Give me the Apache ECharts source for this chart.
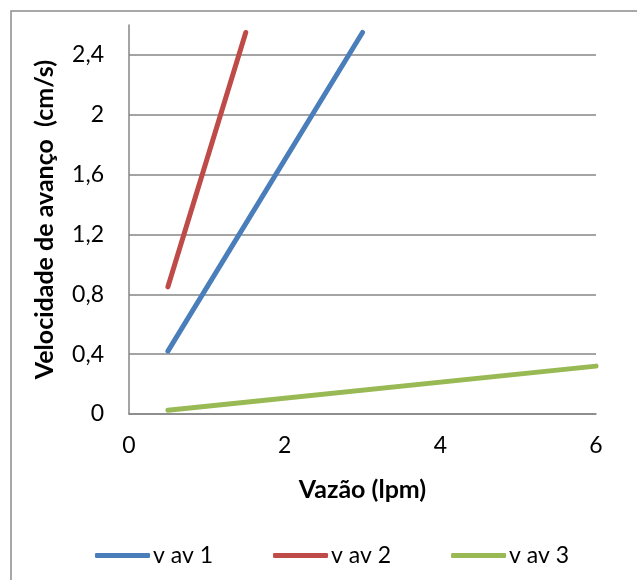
<!DOCTYPE html>
<html>
<head>
<meta charset="utf-8">
<script src="https://cdn.jsdelivr.net/npm/echarts@6/dist/echarts.min.js"></script>
<style>
  html, body { margin: 0; padding: 0; background: #fff; }
  #chart { width: 637px; height: 580px; }
</style>
</head>
<body>
<div id="chart"></div>
<script>
// dados: vazão (lpm) x velocidade de avanço (cm/s)
const vav1 = [[0.5, 0.42], [3.0, 2.55]]
const vav2 = [[0.5, 0.85], [1.5, 2.55]]
const vav3 = [[0.5, 0.025], [6.0, 0.32]]
const seriesNames = ['v av 1', 'v av 2', 'v av 3']
const yTicks = [0, 0.4, 0.8, 1.2, 1.6, 2, 2.4]
const xTicks = [0, 2, 4, 6]

const font = 'Lato, "Open Sans", sans-serif'
const colors = ['#4A7EBB', '#BE4B48', '#98B954']

function fmt(v) {
  return String(v).replace('.', ',')
}

var chart = echarts.init(document.getElementById('chart'))

var option = {
  animation: false,
  color: colors,
  graphic: [{
    type: 'rect',
    shape: { x: 11, y: 11, width: 700, height: 700 },
    style: { fill: 'none', stroke: '#8c8c8c', lineWidth: 1.5 },
    silent: true
  }],
  grid: { left: 129, right: 41, top: 25, bottom: 166 },
  legend: {
    bottom: 8,
    left: 90,
    itemWidth: 55,
    itemHeight: 5,
    itemGap: 60,
    icon: 'roundRect',
    textStyle: { fontFamily: font, fontSize: 23, color: '#000', padding: [0, 0, 0, -2] },
    data: seriesNames
  },
  xAxis: {
    type: 'value',
    min: 0,
    max: 6,
    interval: 2,
    name: 'Vazão (lpm)',
    nameLocation: 'middle',
    nameGap: 63,
    nameTextStyle: { fontFamily: font, fontSize: 25, fontWeight: 'bold', color: '#000' },
    axisLine: { show: true, lineStyle: { color: '#868686', width: 1.5 } },
    axisTick: { show: false },
    splitLine: { show: false },
    axisLabel: {
      fontFamily: font, fontSize: 23, color: '#000', margin: 20,
      customValues: xTicks,
      formatter: fmt
    }
  },
  yAxis: {
    type: 'value',
    min: 0,
    max: 2.6,
    name: 'Velocidade de avanço  (cm/s)',
    nameLocation: 'middle',
    nameGap: 72,
    nameTextStyle: { fontFamily: font, fontSize: 25, fontWeight: 'bold', color: '#000' },
    axisLine: { show: true, lineStyle: { color: '#868686', width: 1.5 } },
    axisTick: { show: false, customValues: yTicks },
    splitLine: { show: true, lineStyle: { color: '#868686', width: 1.5 } },
    axisLabel: {
      fontFamily: font, fontSize: 23, color: '#000', margin: 25,
      customValues: yTicks,
      formatter: fmt
    }
  },
  series: [
    { name: seriesNames[0], type: 'line', data: vav1, showSymbol: false, lineStyle: { width: 5, cap: 'round' } },
    { name: seriesNames[1], type: 'line', data: vav2, showSymbol: false, lineStyle: { width: 5, cap: 'round' } },
    { name: seriesNames[2], type: 'line', data: vav3, showSymbol: false, lineStyle: { width: 5, cap: 'round' } }
  ]
}

chart.setOption(option)
</script>
</body>
</html>
